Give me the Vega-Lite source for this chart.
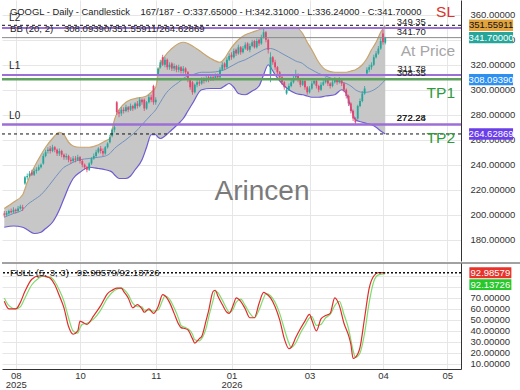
{
  "$schema": "https://vega.github.io/schema/vega-lite/v6.json",
  "padding": 0,
  "autosize": {"type": "pad"},
  "background": "white",
  "spacing": 1,
  "config": {
    "view": {"stroke": null},
    "font": "Liberation Sans",
    "text": {"font": "Liberation Sans"},
    "axis": {"labelFont": "Liberation Sans", "labelFontSize": 9.5, "labelColor": "#333333", "gridColor": "#e6e6e6", "domainColor": "#333333", "ticks": false, "title": null, "labelOverlap": false, "tickCount": 30}
  },
  "datasets": {
    "candles": [
      {"i":0,"o":201,"h":203,"l":198,"c":200},{"i":1,"o":200,"h":203,"l":199,"c":201.5},{"i":2,"o":201,"h":204,"l":200,"c":203},{"i":3,"o":203,"h":205,"l":201,"c":202},{"i":4,"o":202,"h":206,"l":201,"c":204},{"i":5,"o":204,"h":205,"l":201,"c":203},{"i":6,"o":203,"h":207,"l":202,"c":205},{"i":7,"o":205,"h":208,"l":204,"c":206.5},{"i":8,"o":206,"h":208,"l":203,"c":205},{"i":9,"o":225,"h":231,"l":224,"c":230},
      {"i":10,"o":230,"h":233,"l":228,"c":231},{"i":11,"o":231,"h":235,"l":230,"c":233},{"i":12,"o":234,"h":236,"l":231,"c":232},{"i":13,"o":232,"h":237,"l":231,"c":235},{"i":14,"o":235,"h":238,"l":233,"c":236},{"i":15,"o":236,"h":240,"l":235,"c":238},{"i":16,"o":238,"h":241,"l":237,"c":240},{"i":17,"o":241,"h":249,"l":240,"c":247},{"i":18,"o":247,"h":252,"l":246,"c":250},{"i":19,"o":251,"h":254,"l":249,"c":252},
      {"i":20,"o":253,"h":255,"l":249,"c":251},{"i":21,"o":251,"h":256,"l":250,"c":254},{"i":22,"o":254,"h":255,"l":250,"c":252},{"i":23,"o":252,"h":253,"l":247,"c":249},{"i":24,"o":249,"h":253,"l":247,"c":251},{"i":25,"o":251,"h":252,"l":246,"c":248},{"i":26,"o":248,"h":249,"l":244,"c":246},{"i":27,"o":246,"h":249,"l":244,"c":247},{"i":28,"o":247,"h":248,"l":242,"c":244},{"i":29,"o":244,"h":246,"l":241,"c":243},
      {"i":30,"o":243,"h":247,"l":242,"c":245},{"i":31,"o":245,"h":247,"l":242,"c":244},{"i":32,"o":244,"h":248,"l":243,"c":246},{"i":33,"o":246,"h":247,"l":241,"c":243},{"i":34,"o":243,"h":244,"l":238,"c":240},{"i":35,"o":240,"h":241,"l":236,"c":238},{"i":36,"o":238,"h":239,"l":234,"c":236},{"i":37,"o":236,"h":242,"l":235,"c":241},{"i":38,"o":241,"h":246,"l":240,"c":245},{"i":39,"o":245,"h":249,"l":244,"c":247},
      {"i":40,"o":247,"h":252,"l":246,"c":250},{"i":41,"o":250,"h":254,"l":249,"c":253},{"i":42,"o":253,"h":255,"l":249,"c":251},{"i":43,"o":251,"h":253,"l":247,"c":249},{"i":44,"o":249,"h":255,"l":248,"c":254},{"i":45,"o":254,"h":258,"l":253,"c":257},{"i":46,"o":258,"h":264,"l":257,"c":262},{"i":47,"o":263,"h":269,"l":262,"c":268},{"i":48,"o":268,"h":272,"l":266,"c":270},{"i":49,"o":290,"h":291,"l":280,"c":282},
      {"i":50,"o":282,"h":284,"l":278,"c":281},{"i":51,"o":281,"h":286,"l":279,"c":284},{"i":52,"o":284,"h":286,"l":281,"c":283},{"i":53,"o":283,"h":288,"l":282,"c":286},{"i":54,"o":286,"h":287,"l":282,"c":284},{"i":55,"o":284,"h":289,"l":283,"c":287},{"i":56,"o":287,"h":288,"l":283,"c":285},{"i":57,"o":285,"h":290,"l":284,"c":289},{"i":58,"o":289,"h":291,"l":285,"c":287},{"i":59,"o":287,"h":294,"l":286,"c":292},
      {"i":60,"o":292,"h":293,"l":288,"c":290},{"i":61,"o":292,"h":293,"l":283,"c":285},{"i":62,"o":285,"h":291,"l":284,"c":290},{"i":63,"o":290,"h":296,"l":289,"c":294},{"i":64,"o":294,"h":296,"l":290,"c":292},{"i":65,"o":303,"h":304,"l":288,"c":290},{"i":66,"o":290,"h":294,"l":288,"c":292},{"i":67,"o":312,"h":318,"l":311,"c":317},{"i":68,"o":318,"h":324,"l":317,"c":322},{"i":69,"o":326,"h":328,"l":319,"c":320},
      {"i":70,"o":320,"h":326,"l":318,"c":324},{"i":71,"o":324,"h":325,"l":316,"c":318},{"i":72,"o":318,"h":322,"l":316,"c":320},{"i":73,"o":321,"h":322,"l":315,"c":317},{"i":74,"o":317,"h":321,"l":315,"c":319},{"i":75,"o":319,"h":320,"l":314,"c":316},{"i":76,"o":316,"h":320,"l":314,"c":318},{"i":77,"o":318,"h":319,"l":313,"c":315},{"i":78,"o":315,"h":319,"l":313,"c":317},{"i":79,"o":317,"h":318,"l":312,"c":314},
      {"i":80,"o":314,"h":315,"l":306,"c":308},{"i":81,"o":308,"h":309,"l":300,"c":302},{"i":82,"o":306,"h":307,"l":296,"c":298},{"i":83,"o":298,"h":305,"l":297,"c":304},{"i":84,"o":304,"h":308,"l":302,"c":306},{"i":85,"o":306,"h":308,"l":303,"c":305},{"i":86,"o":305,"h":310,"l":304,"c":308},{"i":87,"o":308,"h":310,"l":305,"c":307},{"i":88,"o":307,"h":311,"l":306,"c":309},{"i":89,"o":310,"h":311,"l":306,"c":308},
      {"i":90,"o":308,"h":312,"l":307,"c":310},{"i":91,"o":310,"h":312,"l":307,"c":309},{"i":92,"o":309,"h":313,"l":308,"c":311},{"i":93,"o":311,"h":313,"l":308,"c":310},{"i":94,"o":310,"h":318,"l":309,"c":316},{"i":95,"o":316,"h":322,"l":315,"c":320},{"i":96,"o":321,"h":322,"l":316,"c":318},{"i":97,"o":318,"h":326,"l":317,"c":324},{"i":98,"o":324,"h":329,"l":323,"c":327},{"i":99,"o":328,"h":330,"l":324,"c":326},
      {"i":100,"o":326,"h":333,"l":325,"c":331},{"i":101,"o":332,"h":333,"l":327,"c":329},{"i":102,"o":329,"h":336,"l":328,"c":334},{"i":103,"o":334,"h":335,"l":328,"c":330},{"i":104,"o":330,"h":335,"l":329,"c":333},{"i":105,"o":333,"h":338,"l":332,"c":336},{"i":106,"o":337,"h":338,"l":331,"c":332},{"i":107,"o":332,"h":337,"l":330,"c":335},{"i":108,"o":335,"h":340,"l":334,"c":338},{"i":109,"o":339,"h":340,"l":333,"c":334},
      {"i":110,"o":334,"h":341,"l":333,"c":339},{"i":111,"o":340,"h":341,"l":335,"c":337},{"i":112,"o":337,"h":344,"l":336,"c":342},{"i":113,"o":342,"h":349,"l":341,"c":346},{"i":114,"o":346,"h":347,"l":338,"c":340},{"i":115,"o":340,"h":341,"l":329,"c":332},{"i":116,"o":312,"h":330,"l":306,"c":326},{"i":117,"o":326,"h":327,"l":320,"c":322},{"i":118,"o":322,"h":324,"l":316,"c":318},{"i":119,"o":318,"h":319,"l":312,"c":314},
      {"i":120,"o":314,"h":315,"l":308,"c":310},{"i":121,"o":310,"h":312,"l":304,"c":306},{"i":122,"o":306,"h":307,"l":300,"c":302},{"i":123,"o":297,"h":302,"l":296,"c":300},{"i":124,"o":300,"h":305,"l":299,"c":303},{"i":125,"o":303,"h":308,"l":302,"c":306},{"i":126,"o":306,"h":311,"l":305,"c":309},{"i":127,"o":310,"h":316,"l":308,"c":312},{"i":128,"o":312,"h":313,"l":306,"c":308},{"i":129,"o":308,"h":309,"l":302,"c":304},
      {"i":130,"o":304,"h":309,"l":303,"c":307},{"i":131,"o":307,"h":308,"l":300,"c":302},{"i":132,"o":302,"h":303,"l":296,"c":298},{"i":133,"o":298,"h":303,"l":297,"c":301},{"i":134,"o":301,"h":307,"l":300,"c":305},{"i":135,"o":305,"h":309,"l":304,"c":307},{"i":136,"o":307,"h":308,"l":301,"c":303},{"i":137,"o":303,"h":304,"l":298,"c":300},{"i":138,"o":300,"h":306,"l":299,"c":304},{"i":139,"o":304,"h":308,"l":303,"c":306},
      {"i":140,"o":306,"h":310,"l":305,"c":308},{"i":141,"o":308,"h":309,"l":303,"c":305},{"i":142,"o":305,"h":306,"l":301,"c":303},{"i":143,"o":303,"h":308,"l":302,"c":306},{"i":144,"o":306,"h":310,"l":305,"c":308},{"i":145,"o":308,"h":309,"l":304,"c":306},{"i":146,"o":306,"h":310,"l":305,"c":308},{"i":147,"o":308,"h":309,"l":303,"c":305},{"i":148,"o":305,"h":306,"l":298,"c":300},{"i":149,"o":300,"h":301,"l":293,"c":295},
      {"i":150,"o":295,"h":296,"l":287,"c":289},{"i":151,"o":289,"h":290,"l":281,"c":283},{"i":152,"o":283,"h":284,"l":275,"c":277},{"i":153,"o":277,"h":278,"l":272,"c":274},{"i":154,"o":277,"h":288,"l":276,"c":287},{"i":155,"o":287,"h":293,"l":286,"c":291},{"i":156,"o":291,"h":299,"l":290,"c":297},{"i":157,"o":297,"h":303,"l":296,"c":301},{"i":158,"o":313,"h":318,"l":312,"c":316},{"i":159,"o":316,"h":320,"l":314,"c":318},
      {"i":160,"o":318,"h":322,"l":316,"c":320},{"i":161,"o":320,"h":328,"l":319,"c":326},{"i":162,"o":326,"h":331,"l":325,"c":329},{"i":163,"o":329,"h":335,"l":328,"c":333},{"i":164,"o":333,"h":341,"l":332,"c":339},{"i":165,"o":345,"h":348,"l":336,"c":338},{"i":166,"o":337.65,"h":342.31,"l":336.24,"c":341.7}
    ],
    "bands": [
      {"i":0,"up":205,"mid":198,"lo":190},{"i":4,"up":210,"mid":201,"lo":191},{"i":8,"up":216,"mid":204,"lo":190},{"i":10,"up":226,"mid":208,"lo":188},{"i":13,"up":238,"mid":212,"lo":185},{"i":16,"up":248,"mid":216,"lo":186},{"i":18,"up":254,"mid":220,"lo":189},{"i":21,"up":261,"mid":227,"lo":194},{"i":24,"up":266,"mid":234,"lo":204},{"i":26,"up":264,"mid":238,"lo":213},{"i":28,"up":258,"mid":240,"lo":222},{"i":30,"up":255,"mid":242,"lo":229},{"i":33,"up":254,"mid":244,"lo":234},{"i":37,"up":254,"mid":245,"lo":238},{"i":41,"up":256,"mid":246,"lo":237},{"i":44,"up":259,"mid":247,"lo":236},{"i":46,"up":261,"mid":249,"lo":235},{"i":47,"up":268,"mid":251,"lo":234},{"i":48,"up":276,"mid":253,"lo":232},{"i":50,"up":284,"mid":256,"lo":229},{"i":53,"up":290,"mid":260,"lo":229},{"i":55,"up":292,"mid":263,"lo":231},{"i":57,"up":293,"mid":266,"lo":236},{"i":60,"up":294,"mid":272,"lo":244},{"i":62,"up":295,"mid":276,"lo":254},{"i":64,"up":298,"mid":280,"lo":264},{"i":66,"up":302,"mid":284,"lo":264},{"i":67,"up":312,"mid":287,"lo":262},{"i":68,"up":320,"mid":290,"lo":261},{"i":70,"up":327,"mid":296,"lo":263},{"i":73,"up":333,"mid":302,"lo":268},{"i":76,"up":337,"mid":306,"lo":273},{"i":78,"up":338,"mid":309,"lo":277},{"i":80,"up":337,"mid":311,"lo":283},{"i":82,"up":335,"mid":312,"lo":289},{"i":86,"up":330,"mid":314,"lo":300},{"i":90,"up":325,"mid":314,"lo":301},{"i":94,"up":322,"mid":315,"lo":301},{"i":96,"up":325,"mid":316,"lo":303},{"i":98,"up":331,"mid":318,"lo":305},{"i":100,"up":336,"mid":320,"lo":302},{"i":102,"up":340,"mid":322,"lo":297},{"i":105,"up":344,"mid":324,"lo":296},{"i":108,"up":346,"mid":327,"lo":299},{"i":111,"up":348,"mid":330,"lo":303},{"i":113,"up":349,"mid":332,"lo":312},{"i":115,"up":349,"mid":333,"lo":320},{"i":116,"up":350,"mid":333,"lo":318},{"i":118,"up":350,"mid":332,"lo":312},{"i":121,"up":350,"mid":329,"lo":305},{"i":124,"up":350,"mid":326,"lo":300},{"i":127,"up":350,"mid":323,"lo":297},{"i":130,"up":345,"mid":321,"lo":296},{"i":132,"up":338,"mid":318,"lo":295},{"i":134,"up":332,"mid":316,"lo":294},{"i":137,"up":322,"mid":313,"lo":294},{"i":140,"up":316,"mid":311,"lo":295},{"i":144,"up":314,"mid":308,"lo":296},{"i":147,"up":314,"mid":306,"lo":300},{"i":149,"up":314,"mid":305,"lo":297},{"i":151,"up":315,"mid":303,"lo":286},{"i":153,"up":316,"mid":300,"lo":276},{"i":156,"up":320,"mid":298,"lo":274},{"i":158,"up":325,"mid":298,"lo":273},{"i":160,"up":332,"mid":299,"lo":272},{"i":162,"up":338,"mid":301,"lo":270},{"i":164,"up":346,"mid":304,"lo":267},{"i":166,"up":351.55911,"mid":308.0939,"lo":264.62869}
    ],
    "stoch": [
      {"i":0,"k":67,"d":70},{"i":2,"k":60,"d":63},{"i":5,"k":60,"d":60},{"i":7,"k":66,"d":62},{"i":9,"k":76,"d":70},{"i":12,"k":87,"d":82},{"i":15,"k":90,"d":88},{"i":17,"k":90,"d":90},{"i":19,"k":89,"d":89},{"i":20,"k":88,"d":89},{"i":22,"k":82,"d":85},{"i":24,"k":72,"d":77},{"i":26,"k":61,"d":67},{"i":28,"k":44,"d":52},{"i":30,"k":37,"d":40},{"i":32,"k":40,"d":38},{"i":33,"k":49,"d":43},{"i":34,"k":48,"d":46},{"i":36,"k":46,"d":47},{"i":39,"k":54,"d":51},{"i":42,"k":63,"d":59},{"i":45,"k":74,"d":70},{"i":47,"k":77,"d":75},{"i":49,"k":79,"d":78},{"i":51,"k":79,"d":79},{"i":52,"k":76,"d":78},{"i":54,"k":70,"d":73},{"i":56,"k":61,"d":65},{"i":58,"k":64,"d":62},{"i":60,"k":60,"d":62},{"i":61,"k":57,"d":59},{"i":63,"k":60,"d":59},{"i":65,"k":56,"d":58},{"i":67,"k":62,"d":59},{"i":69,"k":73,"d":68},{"i":70,"k":72,"d":72},{"i":72,"k":66,"d":69},{"i":74,"k":56,"d":61},{"i":76,"k":46,"d":51},{"i":77,"k":43,"d":45},{"i":79,"k":42,"d":43},{"i":80,"k":41,"d":42},{"i":82,"k":33,"d":37},{"i":83,"k":29,"d":32},{"i":85,"k":33,"d":31},{"i":86,"k":35,"d":33},{"i":88,"k":50,"d":43},{"i":89,"k":58,"d":52},{"i":91,"k":76,"d":68},{"i":92,"k":77,"d":76},{"i":93,"k":72,"d":75},{"i":95,"k":64,"d":68},{"i":97,"k":57,"d":60},{"i":98,"k":56,"d":57},{"i":100,"k":65,"d":61},{"i":101,"k":70,"d":66},{"i":103,"k":67,"d":69},{"i":105,"k":60,"d":63},{"i":107,"k":52,"d":56},{"i":109,"k":52,"d":52},{"i":111,"k":65,"d":59},{"i":113,"k":75,"d":70},{"i":114,"k":74,"d":74},{"i":116,"k":70,"d":72},{"i":118,"k":62,"d":66},{"i":120,"k":50,"d":56},{"i":122,"k":33,"d":42},{"i":124,"k":24,"d":29},{"i":125,"k":25,"d":25},{"i":127,"k":34,"d":29},{"i":129,"k":42,"d":38},{"i":131,"k":49,"d":45},{"i":133,"k":55,"d":52},{"i":134,"k":50,"d":53},{"i":136,"k":40,"d":45},{"i":138,"k":51,"d":46},{"i":140,"k":54,"d":52},{"i":142,"k":56,"d":55},{"i":144,"k":70,"d":63},{"i":146,"k":63,"d":67},{"i":148,"k":47,"d":55},{"i":150,"k":36,"d":42},{"i":151,"k":28,"d":32},{"i":152,"k":15,"d":22},{"i":153,"k":16,"d":16},{"i":155,"k":25,"d":20},{"i":157,"k":52,"d":38},{"i":159,"k":79,"d":66},{"i":161,"k":90,"d":85},{"i":163,"k":93,"d":91},{"i":166,"k":92.98579,"d":92.13726}
    ],
    "levels": [
      {"v":351.55911,"kind":"band"},{"v":349.35,"kind":"L"},{"v":341.7,"kind":"price"},{"v":311.78,"kind":"L"},{"v":308.35,"kind":"TP"},{"v":272.24,"kind":"L"},{"v":272.28,"kind":"L"},{"v":264.62869,"kind":"band"}
    ],
    "levelLabels": [
      {"v":349.35,"t":"349.35"},{"v":341.7,"t":"341.70"},{"v":311.78,"t":"311.78"},{"v":308.35,"t":"308.35"},{"v":272.24,"t":"272.24"},{"v":272.28,"t":"272.28"}
    ],
    "badges": [
      {"v":351.55911,"t":"351.55911","b":"u"},{"v":341.7,"t":"341.70000","b":"p"},{"v":308.0939,"t":"308.09390","b":"m"},{"v":264.62869,"t":"264.62869","b":"l"}
    ]
  },
  "vconcat": [
    {
      "width": 459,
      "height": 261,
      "layer": [
        {
          "data": {"name": "bands"},
          "mark": {"type": "area", "color": "#c4c4c4", "opacity": 0.95, "interpolate": "monotone"},
          "encoding": {
            "x": {"field": "i", "type": "quantitative", "scale": {"domain": [-1, 199], "nice": false, "zero": false},
                  "axis": {"values": [5, 33, 66, 99, 133, 165, 193], "tickCount": 30, "labels": false, "domain": false, "grid": true, "ticks": false}},
            "y": {"field": "up", "type": "quantitative", "scale": {"domain": [163, 371.8], "nice": false, "zero": false},
                  "axis": {"orient": "right", "values": [180, 200, 220, 240, 260, 280, 300, 320, 340, 360], "tickCount": 30, "format": ".5f", "grid": true, "labelPadding": 9, "domain": true, "labelOverlap": false, "labelFlush": false}},
            "y2": {"field": "lo"}
          }
        },
        {"data": {"name": "bands"}, "mark": {"type": "line", "color": "#c9a46a", "strokeWidth": 1.2, "interpolate": "monotone"},
         "encoding": {"x": {"field": "i", "type": "quantitative"}, "y": {"field": "up", "type": "quantitative"}}},
        {"data": {"name": "bands"}, "mark": {"type": "line", "color": "#6b5cd0", "strokeWidth": 1.2, "interpolate": "monotone"},
         "encoding": {"x": {"field": "i", "type": "quantitative"}, "y": {"field": "lo", "type": "quantitative"}}},
        {"data": {"name": "bands"}, "mark": {"type": "line", "color": "#7092c0", "strokeWidth": 1, "interpolate": "monotone"},
         "encoding": {"x": {"field": "i", "type": "quantitative"}, "y": {"field": "mid", "type": "quantitative"}}},
        {"data": {"name": "candles"}, "mark": {"type": "rule", "strokeWidth": 0.8},
         "encoding": {"x": {"field": "i", "type": "quantitative"}, "y": {"field": "l", "type": "quantitative"}, "y2": {"field": "h"},
                      "color": {"condition": {"test": "datum.c >= datum.o", "value": "#26a69a"}, "value": "#e2466e"}}},
        {"data": {"name": "candles"}, "mark": {"type": "rule", "strokeWidth": 1.8},
         "encoding": {"x": {"field": "i", "type": "quantitative"}, "y": {"field": "o", "type": "quantitative"}, "y2": {"field": "c"},
                      "color": {"condition": {"test": "datum.c >= datum.o", "value": "#26a69a"}, "value": "#e2466e"}}},
        {"data": {"name": "levels"}, "transform": [{"filter": "datum.kind == 'band'"}],
         "mark": {"type": "rule", "color": "#111111", "strokeWidth": 1, "strokeDash": [3, 3]},
         "encoding": {"y": {"field": "v", "type": "quantitative"}}},
        {"data": {"name": "levels"}, "transform": [{"filter": "datum.kind == 'L'"}],
         "mark": {"type": "rule", "color": "#9b6fd6", "strokeWidth": 2},
         "encoding": {"y": {"field": "v", "type": "quantitative"}}},
        {"data": {"name": "levels"}, "transform": [{"filter": "datum.kind == 'price'"}],
         "mark": {"type": "rule", "color": "#8a8a8a", "strokeWidth": 1},
         "encoding": {"y": {"field": "v", "type": "quantitative"}}},
        {"data": {"name": "levels"}, "transform": [{"filter": "datum.kind == 'TP'"}],
         "mark": {"type": "rule", "color": "#5f9f5f", "strokeWidth": 2.5},
         "encoding": {"y": {"field": "v", "type": "quantitative"}}},
        {"data": {"name": "levelLabels"},
         "mark": {"type": "text", "align": "right", "baseline": "bottom", "dy": -1, "fontSize": 9.5, "color": "#222222"},
         "encoding": {"x": {"datum": 183.7, "type": "quantitative"}, "y": {"field": "v", "type": "quantitative"}, "text": {"field": "t"}}},
        {"data": {"values": [{}]},
         "mark": {"type": "text", "align": "left", "baseline": "middle", "fontSize": 9.4, "color": "#222222",
                  "text": "GOOGL - Daily - Candlestick\u00a0\u00a0\u00a0 167/187 - O:337.65000 - H:342.31000 - L:336.24000 - C:341.70000"},
         "encoding": {"x": {"datum": 2.5, "type": "quantitative"}, "y": {"datum": 362.2, "type": "quantitative"}}},
        {"data": {"values": [{}]},
         "mark": {"type": "text", "align": "left", "baseline": "middle", "fontSize": 9.6, "color": "#222222",
                  "text": "BB (20, 2)\u00a0\u00a0\u00a0 308.09390/351.55911/264.62869"},
         "encoding": {"x": {"datum": 2.5, "type": "quantitative"}, "y": {"datum": 348.7, "type": "quantitative"}}},
        {"data": {"values": [{}]},
         "mark": {"type": "text", "align": "left", "baseline": "middle", "fontSize": 10, "color": "#222222", "text": "L2"},
         "encoding": {"x": {"datum": 2.1, "type": "quantitative"}, "y": {"datum": 357.5, "type": "quantitative"}}},
        {"data": {"values": [{}]},
         "mark": {"type": "text", "align": "left", "baseline": "middle", "fontSize": 10, "color": "#222222", "text": "L1"},
         "encoding": {"x": {"datum": 2.1, "type": "quantitative"}, "y": {"datum": 318.8, "type": "quantitative"}}},
        {"data": {"values": [{}]},
         "mark": {"type": "text", "align": "left", "baseline": "middle", "fontSize": 10, "color": "#222222", "text": "L0"},
         "encoding": {"x": {"datum": 2.1, "type": "quantitative"}, "y": {"datum": 279.4, "type": "quantitative"}}},
        {"data": {"values": [{}]},
         "mark": {"type": "text", "align": "right", "baseline": "middle", "fontSize": 15.5, "color": "#e0302a", "text": "SL"},
         "encoding": {"x": {"datum": 196.4, "type": "quantitative"}, "y": {"datum": 362.2, "type": "quantitative"}}},
        {"data": {"values": [{}]},
         "mark": {"type": "text", "align": "right", "baseline": "middle", "fontSize": 15.5, "color": "#a6a6a6", "text": "At Price"},
         "encoding": {"x": {"datum": 196.4, "type": "quantitative"}, "y": {"datum": 331.2, "type": "quantitative"}}},
        {"data": {"values": [{}]},
         "mark": {"type": "text", "align": "right", "baseline": "middle", "fontSize": 15.5, "color": "#2f9a3c", "text": "TP1"},
         "encoding": {"x": {"datum": 196.4, "type": "quantitative"}, "y": {"datum": 297.7, "type": "quantitative"}}},
        {"data": {"values": [{}]},
         "mark": {"type": "text", "align": "right", "baseline": "middle", "fontSize": 15.5, "color": "#2f9a3c", "text": "TP2"},
         "encoding": {"x": {"datum": 196.4, "type": "quantitative"}, "y": {"datum": 261.8, "type": "quantitative"}}},
        {"data": {"values": [{}]},
         "mark": {"type": "text", "align": "center", "baseline": "middle", "fontSize": 28, "color": "#7a7a7a", "text": "Arincen"},
         "encoding": {"x": {"datum": 112.3, "type": "quantitative"}, "y": {"datum": 218, "type": "quantitative"}}},
        {"data": {"name": "badges"},
         "mark": {"type": "point", "shape": "M-1,-0.26H1V0.26H-1Z", "filled": true, "size": 1936, "opacity": 1, "strokeWidth": 0},
         "encoding": {"x": {"datum": 212.1, "type": "quantitative"}, "y": {"field": "v", "type": "quantitative"},
                      "fill": {"field": "b", "type": "nominal", "scale": {"domain": ["u", "p", "m", "l"], "range": ["#e3a33c", "#26a69a", "#2d8ff0", "#6a3ee8"]}, "legend": null}}},
        {"data": {"name": "badges"},
         "mark": {"type": "text", "align": "center", "baseline": "middle", "fontSize": 9.5},
         "encoding": {"x": {"datum": 212.1, "type": "quantitative"}, "y": {"field": "v", "type": "quantitative"}, "text": {"field": "t"},
                      "color": {"field": "b", "type": "nominal", "scale": {"domain": ["u", "p", "m", "l"], "range": ["#111111", "#ffffff", "#ffffff", "#ffffff"]}, "legend": null}}}
      ]
    },
    {
      "width": 459,
      "height": 106,
      "layer": [
        {
          "data": {"name": "stoch"},
          "mark": {"type": "line", "color": "#7fdc6e", "strokeWidth": 1.2, "interpolate": "monotone"},
          "encoding": {
            "x": {"field": "i", "type": "quantitative", "scale": {"domain": [-1, 199], "nice": false, "zero": false},
                  "axis": {"values": [5, 33, 66, 99, 133, 165, 193], "tickCount": 30, "grid": true, "domain": true, "labelFontSize": 9.5, "labelPadding": 1, "labelLineHeight": 9, "labelOverlap": false,
                           "labelExpr": "datum.value == 5 ? ['08', '2025'] : datum.value == 33 ? '10' : datum.value == 66 ? '11' : datum.value == 99 ? ['01', '2026'] : datum.value == 133 ? '03' : datum.value == 165 ? '04' : '05'"}},
            "y": {"field": "d", "type": "quantitative", "scale": {"domain": [5.4, 101.8], "nice": false, "zero": false},
                  "axis": {"orient": "right", "values": [10, 20, 30, 40, 50, 60, 70, 80, 90], "tickCount": 30, "grid": true, "labelPadding": 9, "domain": true, "labelOverlap": false, "labelFlush": false,
                           "labelExpr": "datum.value > 75 ? '' : format(datum.value, '.5f')"}}
          }
        },
        {"data": {"name": "stoch"}, "mark": {"type": "line", "color": "#e02b2b", "strokeWidth": 1.2, "interpolate": "monotone"},
         "encoding": {"x": {"field": "i", "type": "quantitative"}, "y": {"field": "k", "type": "quantitative"}}},
        {"data": {"values": [{}]},
         "mark": {"type": "rule", "color": "#111111", "strokeWidth": 1.6, "strokeDash": [2, 2]},
         "encoding": {"y": {"datum": 92.98579, "type": "quantitative"}}},
        {"data": {"values": [{}]},
         "mark": {"type": "rule", "color": "#444444", "strokeWidth": 1},
         "encoding": {"x": {"datum": -1, "type": "quantitative"}, "x2": {"datum": 225.6}, "y": {"datum": 101.8, "type": "quantitative"}}},
        {"data": {"values": [{}]},
         "mark": {"type": "text", "align": "left", "baseline": "middle", "fontSize": 9.6, "color": "#222222",
                  "text": "FULL (5, 3, 3)\u00a0\u00a0 92.98579/92.13726"},
         "encoding": {"x": {"datum": 2.5, "type": "quantitative"}, "y": {"datum": 92.98579, "type": "quantitative"}}},
        {"data": {"values": [{}]},
         "mark": {"type": "point", "shape": "M-1,-0.26H1V0.26H-1Z", "filled": true, "size": 1764, "opacity": 1, "strokeWidth": 0, "color": "#e8332b"},
         "encoding": {"x": {"datum": 211.8, "type": "quantitative"}, "y": {"datum": 92.98579, "type": "quantitative"}}},
        {"data": {"values": [{}]},
         "mark": {"type": "text", "align": "center", "baseline": "middle", "fontSize": 9.5, "color": "#ffffff", "text": "92.98579"},
         "encoding": {"x": {"datum": 211.8, "type": "quantitative"}, "y": {"datum": 92.98579, "type": "quantitative"}}},
        {"data": {"values": [{}]},
         "mark": {"type": "point", "shape": "M-1,-0.26H1V0.26H-1Z", "filled": true, "size": 1764, "opacity": 1, "strokeWidth": 0, "color": "#27c82a", "yOffset": 11},
         "encoding": {"x": {"datum": 211.8, "type": "quantitative"}, "y": {"datum": 92.13726, "type": "quantitative"}}},
        {"data": {"values": [{}]},
         "mark": {"type": "text", "align": "center", "baseline": "middle", "fontSize": 9.5, "color": "#ffffff", "text": "92.13726", "yOffset": 11},
         "encoding": {"x": {"datum": 211.8, "type": "quantitative"}, "y": {"datum": 92.13726, "type": "quantitative"}}}
      ]
    }
  ]
}
